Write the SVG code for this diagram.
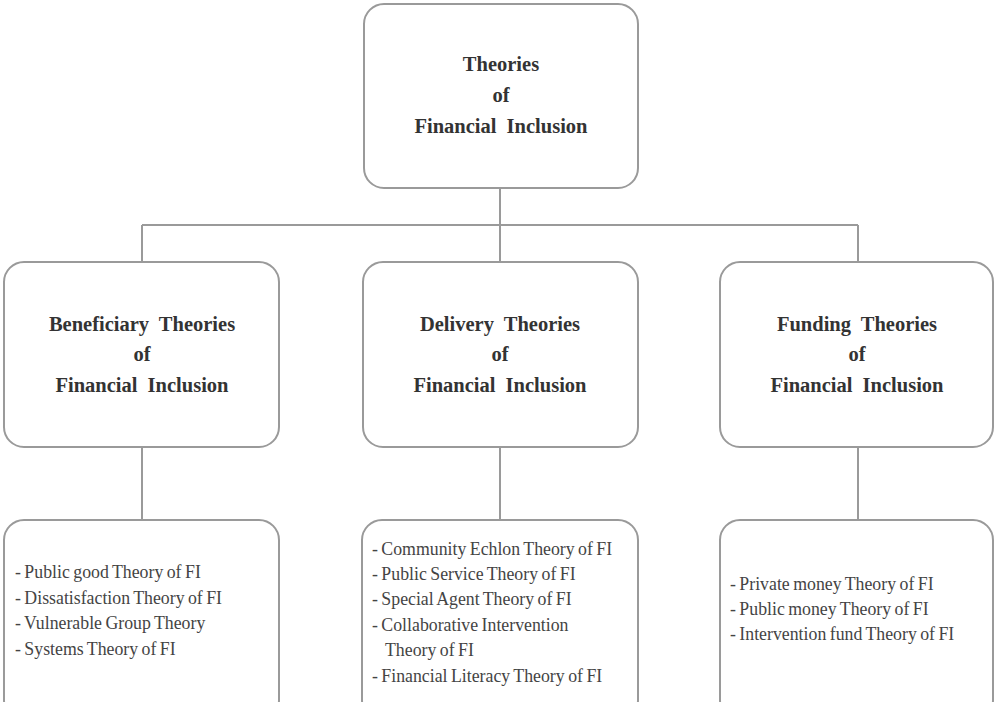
<svg xmlns="http://www.w3.org/2000/svg" width="995" height="702" viewBox="0 0 995 702">
  <style>
    .box { fill: #ffffff; stroke: #9a9a9a; stroke-width: 2; }
    .link { fill: none; stroke: #9a9a9a; stroke-width: 2; }
    .head { font-family: "Liberation Serif", "Times New Roman", serif; font-weight: bold; font-size: 20.5px; fill: #333333; text-anchor: middle; word-spacing: 5px; }
    .item { font-family: "Liberation Serif", "Times New Roman", serif; font-size: 17.8px; fill: #444444; word-spacing: -1px; }
  </style>
  <rect width="995" height="702" fill="#ffffff"/>

  <g id="connectors">
    <path class="link" d="M500 188 V225 M142 225 H858 M142 225 V262 M500 225 V262 M858 225 V262"/>
    <path class="link" d="M142 447 V520 M500 447 V520 M858 447 V520"/>
  </g>

  <g id="root">
    <rect class="box" x="364" y="4" width="274" height="184" rx="20"/>
    <text class="head" x="501" y="71">Theories</text>
    <text class="head" x="501" y="102">of</text>
    <text class="head" x="501" y="133">Financial Inclusion</text>
  </g>

  <g id="beneficiary">
    <rect class="box" x="4" y="262" width="275" height="185" rx="20"/>
    <text class="head" x="142" y="331">Beneficiary Theories</text>
    <text class="head" x="142" y="361">of</text>
    <text class="head" x="142" y="392">Financial Inclusion</text>
  </g>

  <g id="delivery">
    <rect class="box" x="363" y="262" width="275" height="185" rx="20"/>
    <text class="head" x="500" y="331">Delivery Theories</text>
    <text class="head" x="500" y="361">of</text>
    <text class="head" x="500" y="392">Financial Inclusion</text>
  </g>

  <g id="funding">
    <rect class="box" x="720" y="262" width="273" height="185" rx="20"/>
    <text class="head" x="857" y="331">Funding Theories</text>
    <text class="head" x="857" y="361">of</text>
    <text class="head" x="857" y="392">Financial Inclusion</text>
  </g>

  <g id="beneficiary-list">
    <rect class="box" x="4" y="520" width="275" height="200" rx="20"/>
    <text class="item" x="15" y="578">- Public good Theory of FI</text>
    <text class="item" x="15" y="604">- Dissatisfaction Theory of FI</text>
    <text class="item" x="15" y="629">- Vulnerable Group Theory</text>
    <text class="item" x="15" y="655">- Systems Theory of FI</text>
  </g>

  <g id="delivery-list">
    <rect class="box" x="362" y="520" width="276" height="200" rx="20"/>
    <text class="item" x="372" y="555">- Community Echlon Theory of FI</text>
    <text class="item" x="372" y="580">- Public Service Theory of FI</text>
    <text class="item" x="372" y="605">- Special Agent Theory of FI</text>
    <text class="item" x="372" y="631">- Collaborative Intervention</text>
    <text class="item" x="385" y="656">Theory of FI</text>
    <text class="item" x="372" y="682">- Financial Literacy Theory of FI</text>
  </g>

  <g id="funding-list">
    <rect class="box" x="720" y="520" width="273" height="200" rx="20"/>
    <text class="item" x="730" y="590">- Private money Theory of FI</text>
    <text class="item" x="730" y="615">- Public money Theory of FI</text>
    <text class="item" x="730" y="640">- Intervention fund Theory of FI</text>
  </g>
</svg>
